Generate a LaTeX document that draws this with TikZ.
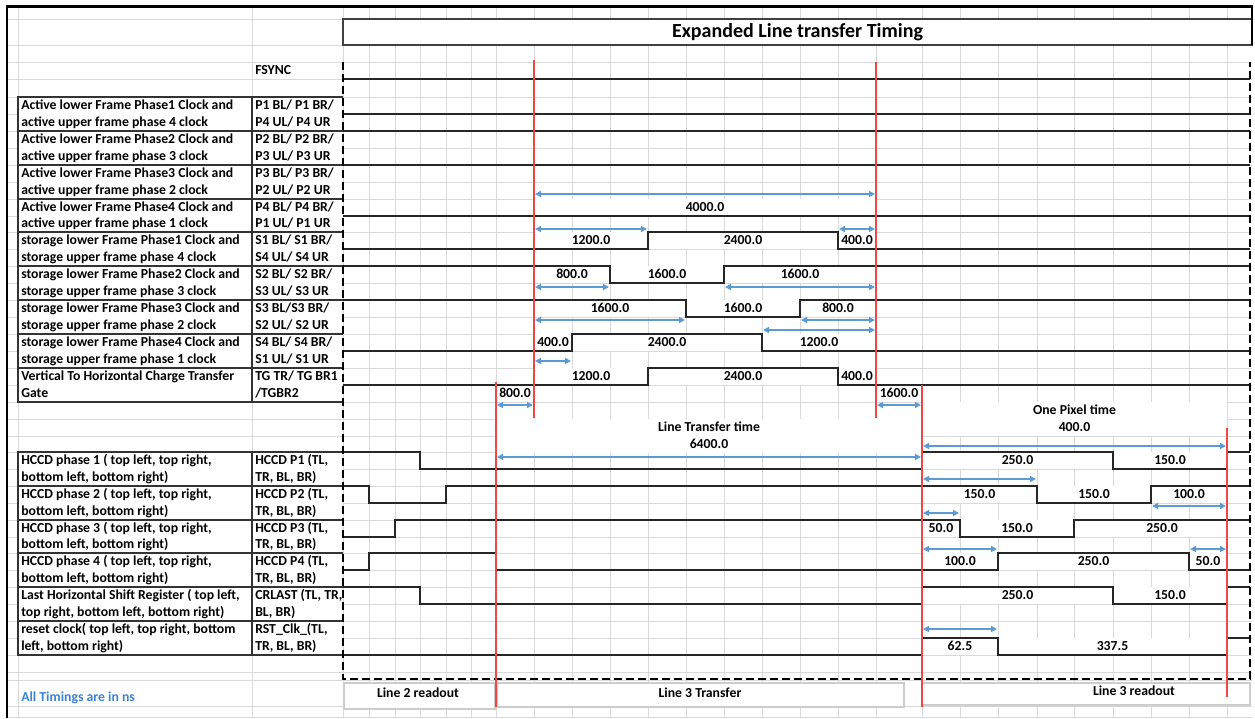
\documentclass[tikz,border=0pt]{standalone}
\usepackage{fontspec}
\setmainfont{Carlito}
\usetikzlibrary{arrows.meta}
\definecolor{gridgray}{RGB}{217,217,217}
\definecolor{dimblue}{RGB}{91,155,213}
\definecolor{markred}{RGB}{240,70,70}
\definecolor{noteblue}{RGB}{60,130,210}

% one signal row of the name table: key, top, bottom, two description lines, two pin lines
\newcommand{\sigrow}[7]{%
  \fill[white] (18,#2) rectangle (343,#3);
  \draw[cellbox] (343,#2) -- (18,#2) -- (18,#3) -- (343,#3);
  \draw[cellbox] (252,#2) -- (252,#3);
  \node[desc] (#1da) at (21,{#2+8.5}) {#4};
  \node[desc] (#1db) at (21,{#3-8.5}) {#5};
  \node[desc] (#1na) at (255,{#2+8.5}) {#6};
  \node[desc] (#1nb) at (255,{#3-8.5}) {#7};
}
% merged cell with a value: name, x from, x to, top of the cell row, text
\newcommand{\seg}[5]{%
  \node[seglbl, minimum width={(#3-#2)*0.75pt}] (#1) at ({(#2+#3)/2},{#4+8.5}) {#5};
}

\begin{document}
\begin{tikzpicture}[x=0.75pt, y=-0.75pt,
    font=\fontsize{10.3}{12}\selectfont\bfseries,
    gridln/.style={draw=gridgray, line width=0.6pt},
    wave/.style={draw=black!85, line width=1pt},
    cellbox/.style={draw=black!80, line width=0.9pt},
    dimarr/.style={draw=dimblue, line width=1.5pt,
                   {Triangle[length=4.5pt,width=4.5pt]}-{Triangle[length=4.5pt,width=4.5pt]}},
    redmark/.style={draw=markred, line width=1pt},
    dashframe/.style={draw=black, line width=1.4pt, dash pattern=on 6pt off 3pt},
    desc/.style={anchor=west, inner sep=0pt, text height=7.4pt, text depth=2pt},
    seglbl/.style={fill=white, inner sep=0pt, minimum height=12.75pt,
                   text height=7.4pt, text depth=2pt},
    bandbox/.style={draw=gray!40, fill=white, line width=0.8pt}]
  \useasboundingbox (0,0) rectangle (1255,718);

  % sheet grid
  \foreach \gx in {18,252,343,369,395,420,446,471,496,534,572,610,648,686,724,762,800,838,876,922,960,998,1037,1074,1113,1151,1189,1227}
    \draw[gridln] (\gx,6) -- (\gx,718);
  \foreach \gy in {7,19,45,62,79,97,114,131,148,165,182,199,216,232,249,266,283,300,317,334,351,368,385,402,419,436,452,469,486,503,520,537,553,570,587,604,621,638,655,672,680,706,717}
    \draw[gridln] (6,\gy) -- (1252,\gy);

  % title
  \draw[draw=black!75, fill=white, line width=0.9pt] (343,19) rectangle (1252,45);
  \node[font=\fontsize{15}{17}\selectfont\bfseries] (ttl) at (797.5,32) {Expanded Line transfer Timing};

  % phase bands at the bottom
  \draw[bandbox] (344,683) rectangle (495,709);
  \draw[bandbox] (497,683) rectangle (904,707);
  \draw[bandbox] (922,683) rectangle (1250,705);
  \node (l2r) at (418,693) {Line 2 readout};
  \node (l3t) at (700,693) {Line 3 Transfer};
  \node (l3r) at (1134,691) {Line 3 readout};
  \node[desc, text=noteblue] (note) at (21,698) {All Timings are in ns};

  % values in merged cells
  \seg{ttot}{534}{876}{199}{4000.0}
  \seg{saa}{534}{648}{232}{1200.0}
  \seg{sab}{648}{838}{232}{2400.0}
  \seg{sac}{838}{876}{232}{400.0}
  \seg{sba}{534}{610}{266}{800.0}
  \seg{sbb}{610}{724}{266}{1600.0}
  \seg{sbc}{724}{876}{266}{1600.0}
  \seg{sca}{534}{686}{300}{1600.0}
  \seg{scb}{686}{800}{300}{1600.0}
  \seg{scc}{800}{876}{300}{800.0}
  \seg{sda}{534}{572}{334}{400.0}
  \seg{sdb}{572}{762}{334}{2400.0}
  \seg{sdc}{762}{876}{334}{1200.0}
  \seg{tga}{534}{648}{368}{1200.0}
  \seg{tgb}{648}{838}{368}{2400.0}
  \seg{tgc}{838}{876}{368}{400.0}
  \seg{pre}{496}{534}{385}{800.0}
  \seg{post}{876}{922}{385}{1600.0}
  \seg{opt}{922}{1227}{402}{One Pixel time}
  \seg{optv}{922}{1227}{419}{400.0}
  \seg{ltt}{496}{922}{419}{Line Transfer time}
  \seg{lttv}{496}{922}{436}{6400.0}
  \seg{haa}{922}{1113}{452}{250.0}
  \seg{hab}{1113}{1227}{452}{150.0}
  \seg{hba}{922}{1037}{486}{150.0}
  \seg{hbb}{1037}{1151}{486}{150.0}
  \seg{hbc}{1151}{1227}{486}{100.0}
  \seg{hca}{922}{960}{520}{50.0}
  \seg{hcb}{960}{1074}{520}{150.0}
  \seg{hcc}{1074}{1250}{520}{250.0}
  \seg{hda}{922}{998}{553}{100.0}
  \seg{hdb}{998}{1189}{553}{250.0}
  \seg{hdc}{1189}{1227}{553}{50.0}
  \seg{cra}{922}{1113}{587}{250.0}
  \seg{crb}{1113}{1227}{587}{150.0}
  \seg{rsa}{922}{998}{638}{62.5}
  \seg{rsb}{998}{1227}{638}{337.5}

  % name table
  \node[desc] (fsync) at (255,70.5) {FSYNC};
  \sigrow{pa}{97}{131}{Active lower Frame Phase1 Clock and}{active upper frame phase 4 clock}{P1 BL/ P1 BR/}{P4 UL/ P4 UR}
  \sigrow{pb}{131}{165}{Active lower Frame Phase2 Clock and}{active upper frame phase 3 clock}{P2 BL/ P2 BR/}{P3 UL/ P3 UR}
  \sigrow{pc}{165}{199}{Active lower Frame Phase3 Clock and}{active upper frame phase 2 clock}{P3 BL/ P3 BR/}{P2 UL/ P2 UR}
  \sigrow{pd}{199}{232}{Active lower Frame Phase4 Clock and}{active upper frame phase 1 clock}{P4 BL/ P4 BR/}{P1 UL/ P1 UR}
  \sigrow{sa}{232}{266}{storage lower Frame Phase1 Clock and}{storage upper frame phase 4 clock}{S1 BL/ S1 BR/}{S4 UL/ S4 UR}
  \sigrow{sb}{266}{300}{storage lower Frame Phase2 Clock and}{storage upper frame phase 3 clock}{S2 BL/ S2 BR/}{S3 UL/ S3 UR}
  \sigrow{sc}{300}{334}{storage lower Frame Phase3 Clock and}{storage upper frame phase 2 clock}{S3 BL/S3 BR/}{S2 UL/ S2 UR}
  \sigrow{sd}{334}{368}{storage lower Frame Phase4 Clock and}{storage upper frame phase 1 clock}{S4 BL/ S4 BR/}{S1 UL/ S1 UR}
  \sigrow{tg}{368}{402}{Vertical To Horizontal Charge Transfer}{Gate}{TG TR/ TG BR1}{/TGBR2}
  \sigrow{ha}{452}{486}{HCCD phase 1 ( top left, top right,}{bottom left, bottom right)}{HCCD P1 (TL,}{TR, BL, BR)}
  \sigrow{hb}{486}{520}{HCCD phase 2 ( top left, top right,}{bottom left, bottom right)}{HCCD P2 (TL,}{TR, BL, BR)}
  \sigrow{hc}{520}{553}{HCCD phase 3 ( top left, top right,}{bottom left, bottom right)}{HCCD P3 (TL,}{TR, BL, BR)}
  \sigrow{hd}{553}{587}{HCCD phase 4 ( top left, top right,}{bottom left, bottom right)}{HCCD P4 (TL,}{TR, BL, BR)}
  \sigrow{cr}{587}{621}{Last Horizontal Shift Register ( top left,}{top right, bottom left, bottom right)}{CRLAST (TL, TR,}{BL, BR)}
  \sigrow{rs}{621}{655}{reset clock( top left, top right, bottom}{left, bottom right)}{RST\_Clk\_(TL,}{TR, BL, BR)}

  % waveforms
  \draw[wave] (343,79) -- (1250,79);
  \draw[wave] (343,114) -- (1250,114);
  \draw[wave] (343,131) -- (1250,131);
  \draw[wave] (343,165) -- (1250,165);
  \draw[wave] (343,216) -- (1250,216);
  \draw[wave] (343,249) -| (648,232) -| (838,249) -- (1250,249);
  \draw[wave] (343,266) -| (610,283) -| (724,266) -- (1250,266);
  \draw[wave] (343,300) -| (686,317) -| (800,300) -- (1250,300);
  \draw[wave] (343,351) -| (572,334) -| (762,351) -- (1250,351);
  \draw[wave] (343,385) -| (648,368) -| (838,385) -- (1250,385);
  \draw[wave] (343,452) -| (420,469) -| (922,452) -| (1113,469) -| (1227,452) -- (1250,452);
  \draw[wave] (343,486) -| (369,503) -| (446,486) -| (1037,503) -| (1151,486) -- (1250,486);
  \draw[wave] (343,537) -| (395,520) -| (960,537) -| (1074,520) -- (1250,520);
  \draw[wave] (343,570) -| (369,553) -| (496,570) -| (998,553) -| (1189,570) -- (1250,570);
  \draw[wave] (343,587) -| (420,604) -| (922,587) -| (1113,604) -| (1227,587) -- (1250,587);
  \draw[wave] (343,655) -| (922,638) -| (998,655) -| (1227,638) -- (1250,638);

  % dashed frame round the waveforms
  \draw[dashframe] (343,62) -- (343,679) -- (1250,679) -- (1250,62);

  % time markers
  \draw[redmark] (534,60) -- (534,418);
  \draw[redmark] (876,62) -- (876,418);
  \draw[redmark] (496,382) -- (496,707);
  \draw[redmark] (922,385) -- (922,707);
  \draw[redmark] (1227,428) -- (1227,697);

  % durations
  \draw[dimarr] (535,194) -- (875,194);
  \draw[dimarr] (535,229) -- (647,229);
  \draw[dimarr] (839,229) -- (875,229);
  \draw[dimarr] (535,287) -- (609,287);
  \draw[dimarr] (725,287) -- (875,287);
  \draw[dimarr] (535,320) -- (685,320);
  \draw[dimarr] (801,320) -- (875,320);
  \draw[dimarr] (763,330) -- (875,330);
  \draw[dimarr] (535,361) -- (571,361);
  \draw[dimarr] (497,405) -- (533,405);
  \draw[dimarr] (877,405) -- (921,405);
  \draw[dimarr] (923,446) -- (1226,446);
  \draw[dimarr] (497,457) -- (921,457);
  \draw[dimarr] (923,479) -- (1036,479);
  \draw[dimarr] (1152,506) -- (1226,506);
  \draw[dimarr] (923,513) -- (959,513);
  \draw[dimarr] (923,549) -- (997,549);
  \draw[dimarr] (1190,549) -- (1226,549);
  \draw[dimarr] (923,629) -- (997,629);

  % sheet border
  \draw[line width=2.2pt] (7,718) -- (7,6.5) -- (1252,6.5) -- (1252,45);
\end{tikzpicture}
\end{document}
